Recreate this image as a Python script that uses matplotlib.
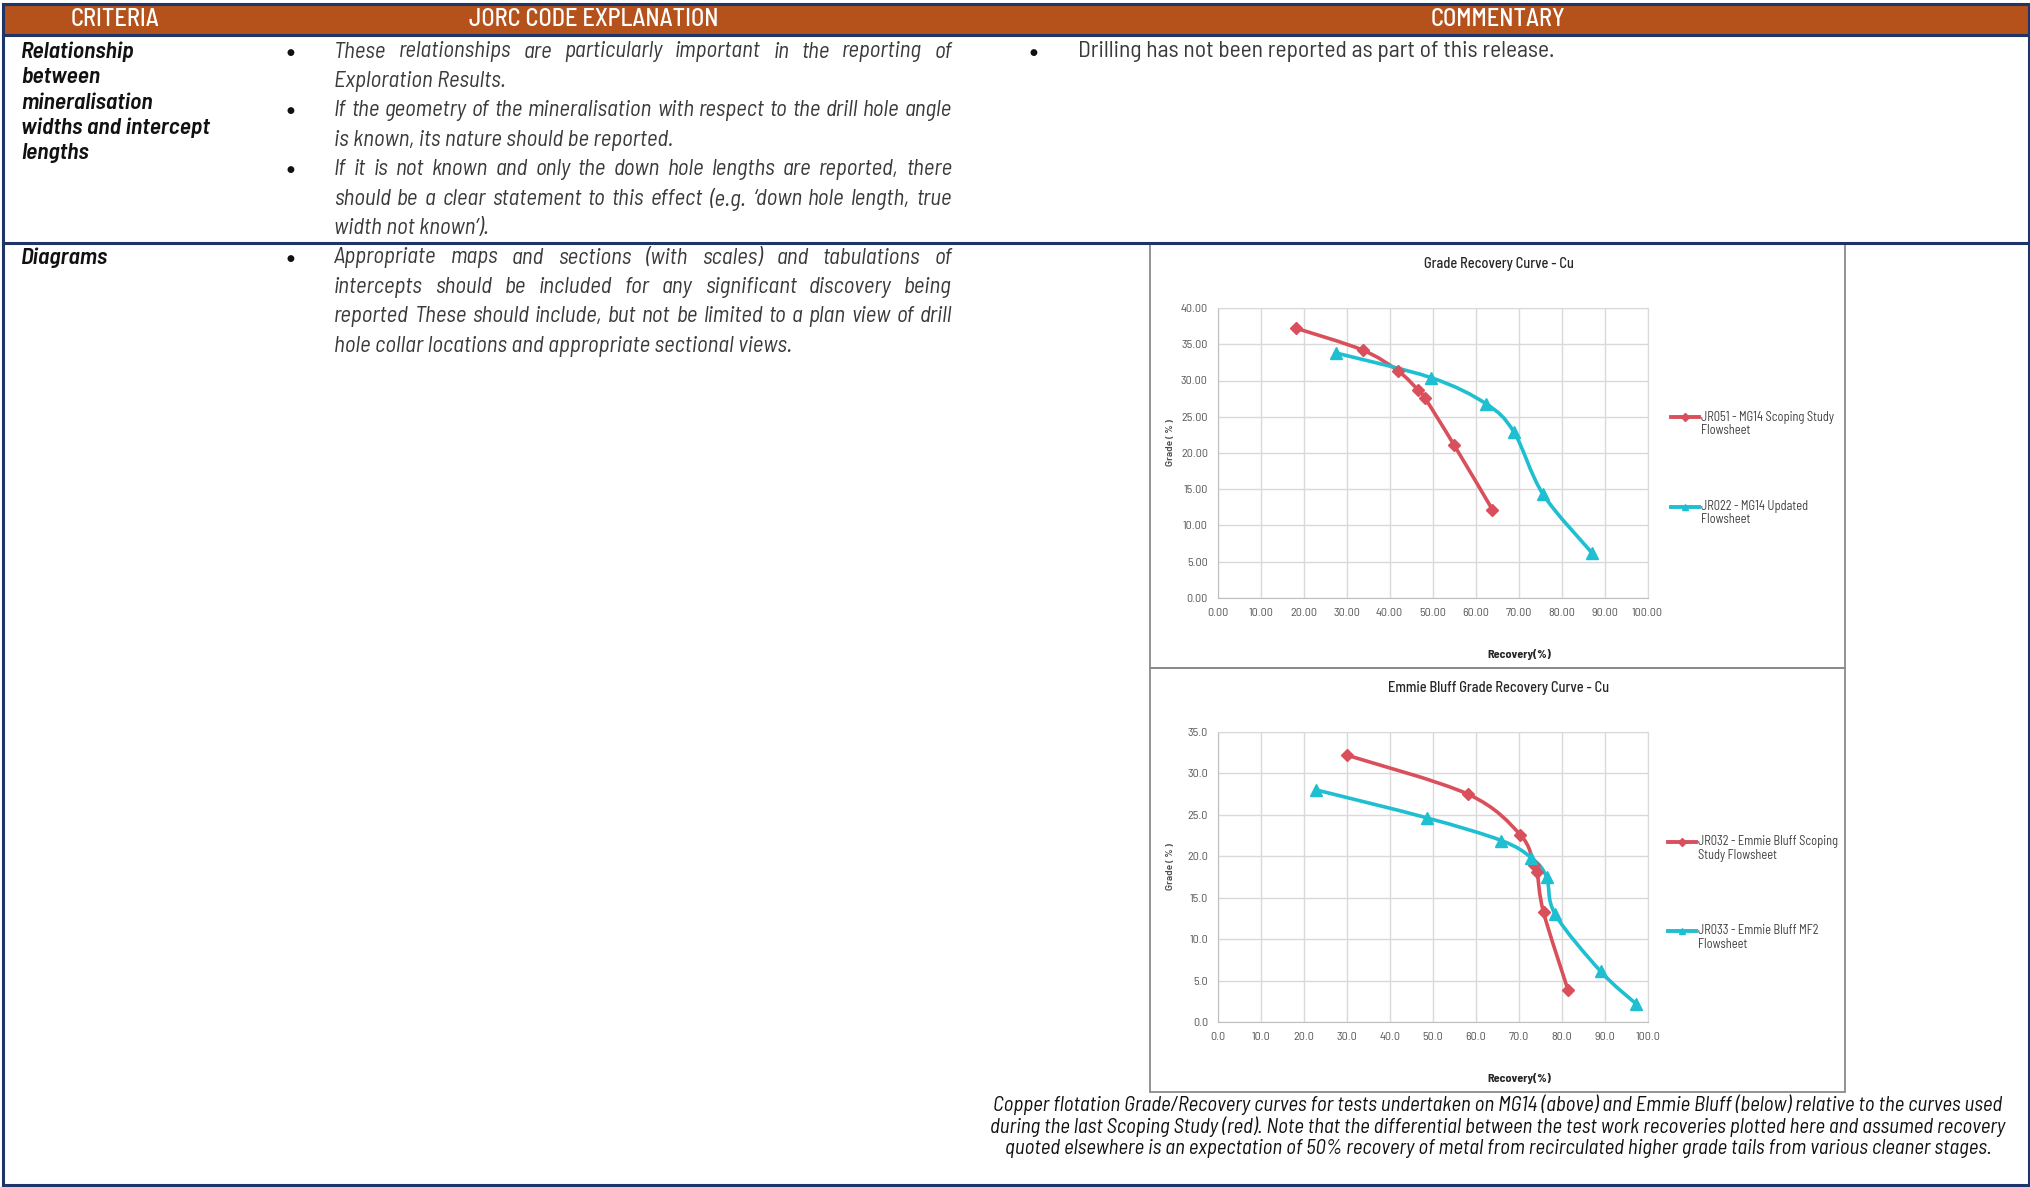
import matplotlib.pyplot as plt
from matplotlib.lines import Line2D
from matplotlib.patches import Rectangle, PathPatch
from matplotlib.path import Path

# ---- data ----
mg14_study_rec = [18.3, 33.7, 42.0, 46.6, 48.2, 55.0, 63.9]
mg14_study_grade = [37.2, 34.2, 31.3, 28.7, 27.6, 21.1, 12.2]
mg14_updated_rec = [27.5, 49.6, 62.4, 68.9, 75.7, 87.1]
mg14_updated_grade = [33.8, 30.4, 26.8, 22.9, 14.3, 6.2]

eb_study_rec = [30.1, 58.2, 70.4, 73.6, 74.3, 75.8, 81.5]
eb_study_grade = [32.2, 27.5, 22.6, 18.95, 18.1, 13.25, 3.85]
eb_mf2_rec = [23.0, 48.6, 66.0, 73.0, 76.5, 78.5, 89.1, 97.3]
eb_mf2_grade = [28.0, 24.65, 21.9, 19.8, 17.5, 13.0, 6.1, 2.2]

header_labels = ["CRITERIA", "JORC CODE EXPLANATION", "COMMENTARY"]
row1_criteria = ["Relationship", "between", "mineralisation", "widths and intercept", "lengths"]
row1_jorc = [
    ["These relationships are particularly important in the reporting of", "Exploration Results."],
    ["If the geometry of the mineralisation with respect to the drill hole angle",
     "is known, its nature should be reported."],
    ["If it is not known and only the down hole lengths are reported, there",
     "should be a clear statement to this effect (e.g. \u2018down hole length, true",
     "width not known\u2019)."],
]
row1_comment = "Drilling has not been reported as part of this release."
row2_criteria = "Diagrams"
row2_jorc = [
    ["Appropriate maps and sections (with scales) and tabulations of",
     "intercepts should be included for any significant discovery being",
     "reported These should include, but not be limited to a plan view of drill",
     "hole collar locations and appropriate sectional views."],
]
caption_lines = [
    "Copper flotation Grade/Recovery curves for tests undertaken on MG14 (above) and Emmie Bluff (below) relative to the curves used",
    "during the last Scoping Study (red). Note that the differential between the test work recoveries plotted here and assumed recovery",
    "quoted elsewhere is an expectation of 50% recovery of metal from recirculated higher grade tails from various cleaner stages.",
]

W, H = 2031, 1187
NARROW = ['Barlow Semi Condensed', 'Barlow Condensed', 'Archivo Narrow', 'Asap Condensed',
          'DejaVu Sans']
WIDE = ['Barlow', 'Roboto', 'DejaVu Sans']
RED = '#D9505C'
CYAN = '#1EBFD0'
NAVY = '#1F3468'
ORANGE = '#B5511B'

fig = plt.figure(figsize=(W / 100, H / 100), dpi=100)
renderer = fig.canvas.get_renderer()


def fx(x):
    return x / W


def fy(y):
    return 1 - y / H


def fit(text, width, **kw):
    # font size that makes `text` about `width` pixels wide
    t = fig.text(0, 0, text, fontsize=10, **kw)
    w = t.get_window_extent(renderer).width
    t.remove()
    return 10 * width / w


def hline(y, x0, x1, color=NAVY, lw=2.2):
    fig.add_artist(Line2D([fx(x0), fx(x1)], [fy(y), fy(y)], color=color, lw=lw,
                          transform=fig.transFigure))


def vline(x, y0, y1, color=NAVY, lw=2.2):
    fig.add_artist(Line2D([fx(x), fx(x)], [fy(y0), fy(y1)], color=color, lw=lw,
                          transform=fig.transFigure))


def bullet(x, y):
    fig.text(fx(x), fy(y), '\u25CF', ha='center', va='center', fontsize=6.5,
             family='DejaVu Sans', color='#111111')


def justified(line, x0, x1, y, **kw):
    words = line.split()
    arts = [fig.text(0, fy(y), w, ha='left', va='center', **kw) for w in words]
    ws = [a.get_window_extent(renderer).width for a in arts]
    gap = (x1 - x0 - sum(ws)) / (len(words) - 1)
    x = x0
    for a, w in zip(arts, ws):
        a.set_x(fx(x))
        x += w + gap


body_size = fit(row1_jorc[1][0], 612, family=NARROW, style='italic')
body = dict(family=NARROW, style='italic', fontsize=body_size, color='#3a3a3a')


def paragraphs(paras, y0, step):
    y = y0
    for para in paras:
        bullet(290, y)
        for i, line in enumerate(para):
            if i < len(para) - 1:
                justified(line, 334, 952, y, **body)
            else:
                fig.text(fx(334), fy(y), line, ha='left', va='center', **body)
            y += step


# ---- table frame ----
fig.add_artist(Rectangle((fx(3), fy(35)), fx(2029) - fx(3), fy(4) - fy(35),
                         facecolor=ORANGE, edgecolor='none', transform=fig.transFigure))
hline(4, 3, 2029)
hline(35, 3, 2029)
hline(243, 3, 2029)
hline(1185, 3, 2029)
vline(3, 4, 1185)
vline(2029, 4, 1185)

head_size = fit(header_labels[1], 249, family=NARROW, fontweight='medium')
for label, x in zip(header_labels, [115, 594, 1498]):
    fig.text(fx(x), fy(20), label, ha='center', va='center', color='white',
             fontsize=head_size, family=NARROW, fontweight='medium')

# ---- row 1 ----
crit = dict(family=NARROW, style='italic', fontweight='semibold', color='#111111')
crit_size = fit(row1_criteria[3], 189, **crit)
for i, line in enumerate(row1_criteria):
    fig.text(fx(21), fy(52 + i * 25.3), line, ha='left', va='center', fontsize=crit_size, **crit)
paragraphs(row1_jorc, 52, 29.4)
bullet(1033, 52)
com_size = fit(row1_comment, 477, family=NARROW)
fig.text(fx(1078), fy(52), row1_comment, ha='left', va='center', family=NARROW,
         fontsize=com_size, color='#3a3a3a')

# ---- row 2 ----
fig.text(fx(21), fy(258), row2_criteria, ha='left', va='center', fontsize=crit_size, **crit)
paragraphs(row2_jorc, 258, 29.4)

cap_size = fit(caption_lines[0], 1012, family=NARROW, style='italic')
for i, line in enumerate(caption_lines):
    fig.text(fx(1498), fy(1105 + i * 22), line, ha='center', va='center', family=NARROW,
             style='italic', fontsize=cap_size, color='#111111')


# ---- charts ----
def smooth_path(xs, ys):
    # Excel style smoothed line: Catmull-Rom converted to cubic bezier
    pts = list(zip(xs, ys))
    verts = [pts[0]]
    codes = [Path.MOVETO]
    n = len(pts)
    for i in range(n - 1):
        p0 = pts[max(i - 1, 0)]
        p1 = pts[i]
        p2 = pts[i + 1]
        p3 = pts[min(i + 2, n - 1)]
        c1 = (p1[0] + (p2[0] - p0[0]) / 6, p1[1] + (p2[1] - p0[1]) / 6)
        c2 = (p2[0] - (p3[0] - p1[0]) / 6, p2[1] - (p3[1] - p1[1]) / 6)
        verts += [c1, c2, p2]
        codes += [Path.CURVE4] * 3
    return Path(verts, codes)


tick_size = fit('100.00', 31, family=NARROW)
leg_size = fit('JR051 - MG14 Scoping Study', 133, family=NARROW)
title_size = fit('Grade Recovery Curve - Cu', 150, family=NARROW, fontweight='medium')
xl_size = fit('Recovery(%)', 64, family=NARROW, fontweight='bold')
yl_size = fit('Grade ( % )', 47, family=WIDE, fontweight='semibold')


def chart(box_top, title, ytop, ystep, yfmt, series, legend_rows, title_y, xlabel_y,
          legend_x):
    fig.add_artist(Rectangle((fx(1150), fy(box_top + 424)), fx(1845) - fx(1150), 424 / H,
                             facecolor='none', edgecolor='#8a8a8a', lw=1.3,
                             transform=fig.transFigure))
    top = box_top + 64.5
    ax = fig.add_axes([fx(1217.6), fy(top + 290), 430 / W, 290 / H])
    for xs, ys, color, marker, ms in series:
        ax.add_patch(PathPatch(smooth_path(xs, ys), facecolor='none', edgecolor=color,
                               lw=2.6, capstyle='round', joinstyle='round'))
        ax.plot(xs, ys, linestyle='none', marker=marker, color=color, markersize=ms,
                zorder=3)
    nticks = int(round(ytop / ystep)) + 1
    ax.set_xlim(0, 100)
    ax.set_ylim(0, ytop)
    ax.set_xticks(range(0, 101, 10))
    ax.set_yticks([v * ystep for v in range(nticks)])
    ax.set_xticklabels([yfmt.format(v) for v in range(0, 101, 10)])
    ax.set_yticklabels([yfmt.format(v * ystep) for v in range(nticks)])
    ax.grid(True, color='#d9d9d9', lw=1)
    ax.set_axisbelow(True)
    for s in ax.spines.values():
        s.set_color('#d9d9d9')
    ax.spines['left'].set_color('#bfbfbf')
    ax.spines['bottom'].set_color('#bfbfbf')
    ax.tick_params(length=0, labelsize=tick_size, labelcolor='#595959', pad=7)
    for lab in ax.get_xticklabels() + ax.get_yticklabels():
        lab.set_family(NARROW)

    fig.text(fx(1499), fy(title_y), title, ha='center', va='center', family=NARROW,
             fontsize=title_size, fontweight='medium', color='#262626')
    fig.text(fx(1519), fy(xlabel_y), 'Recovery(%)', ha='center', va='center', family=NARROW,
             fontsize=xl_size, fontweight='bold', color='#262626')
    fig.text(fx(1171), fy(top + 135), 'Grade ( % )', ha='center', va='center', rotation=90,
             family=WIDE, fontsize=yl_size, fontweight='semibold', color='#4a4a4a')

    for (lines, color, marker), y in zip(legend_rows, [box_top + 174, box_top + 263]):
        fig.add_artist(Line2D([fx(legend_x), fx(legend_x + 28)], [fy(y), fy(y)], color=color,
                              lw=2.8, transform=fig.transFigure))
        fig.add_artist(Line2D([fx(legend_x + 14)], [fy(y)], color=color, marker=marker,
                              markersize=4.5, transform=fig.transFigure))
        for j, t in enumerate(lines):
            fig.text(fx(legend_x + 30), fy(y + j * 13.5), t, ha='left', va='center',
                     family=NARROW, fontsize=leg_size, color='#404040')


chart(243.5, 'Grade Recovery Curve - Cu', 40, 5, '{:.2f}',
      [(mg14_study_rec, mg14_study_grade, RED, 'D', 6),
       (mg14_updated_rec, mg14_updated_grade, CYAN, '^', 8)],
      [(['JR051 - MG14 Scoping Study', 'Flowsheet'], RED, 'D'),
       (['JR022 - MG14 Updated', 'Flowsheet'], CYAN, '^')],
      264, 654, 1671)

chart(667.5, 'Emmie Bluff Grade Recovery Curve - Cu', 35, 5, '{:.1f}',
      [(eb_study_rec, eb_study_grade, RED, 'D', 6),
       (eb_mf2_rec, eb_mf2_grade, CYAN, '^', 8)],
      [(['JR032 - Emmie Bluff Scoping', 'Study Flowsheet'], RED, 'D'),
       (['JR033 - Emmie Bluff MF2', 'Flowsheet'], CYAN, '^')],
      688, 1078, 1668)

fig.savefig('out.png', dpi=100)
